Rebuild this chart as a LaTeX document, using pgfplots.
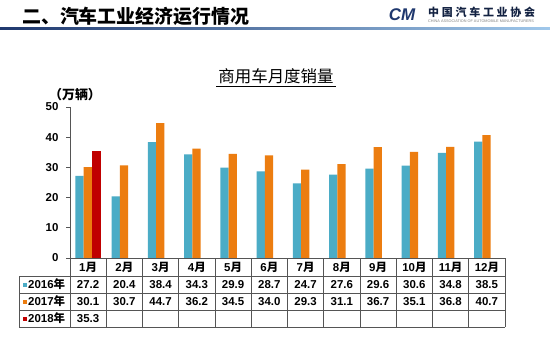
\documentclass[border=0pt]{standalone}
\usepackage{fontspec}
\setmainfont{Liberation Sans}
\newfontfamily\cjk{Noto Sans CJK SC}
\usepackage{pgfplots}
\pgfplotsset{compat=1.18}
\definecolor{cblue}{RGB}{75,172,198}
\definecolor{corange}{RGB}{236,125,16}
\definecolor{cred}{RGB}{192,0,0}
\definecolor{navy}{RGB}{31,56,110}
\definecolor{lblue}{RGB}{160,200,235}
\definecolor{tline}{RGB}{85,85,85}
\begin{document}
\begin{tikzpicture}[x=1bp,y=1bp,
  tbl/.style={font=\bfseries\fontsize{11.5}{12}\selectfont, inner sep=0}]
\useasboundingbox (0,0) rectangle (550,355);
\fill[white] (0,0) rectangle (550,355);
% header
\node[anchor=west,inner sep=0,font=\cjk\bfseries\fontsize{19}{19}\selectfont] at (22,338.5) {二、汽车工业经济运行情况};
\shade[left color=navy, right color=lblue] (0,325.5) rectangle (550,327.8);
% logo
\node[font=\bfseries\itshape\fontsize{17}{17}\selectfont, text=navy, inner sep=0] at (402,340) {CM};
\node[anchor=west, inner sep=0, font=\cjk\bfseries\fontsize{11}{11}\selectfont\addfontfeature{LetterSpace=25}, text=navy!60!black] at (428,342.5) {中国汽车工业协会};
\node[anchor=west, inner sep=0, font=\fontsize{3.8}{4}\selectfont, text=gray] at (428,334) {CHINA ASSOCIATION OF AUTOMOBILE MANUFACTURERS};
% title
\node[font=\cjk\fontsize{16.5}{17}\selectfont, inner sep=0] at (276,279) {商用车月度销量};
\draw[line width=0.8bp] (216,269) -- (336,269);
\node[font=\cjk\bfseries\fontsize{13}{13}\selectfont, inner sep=0] at (75,260.5) {（万辆）};

\begin{axis}[at={(70bp,97bp)}, anchor=south west, scale only axis,
  width=435bp, height=151bp,
  xmin=0.5, xmax=12.5, ymin=0, ymax=50,
  axis x line=none, axis y line*=left,
  ytick={0,10,...,50}, tick align=outside, major tick length=4bp,
  axis line style={tline, line width=0.8bp},
  ytick style={tline, line width=0.8bp},
  /pgf/number format/assume math mode=true,
  yticklabel style={font=\bfseries\fontsize{11.5}{12}\selectfont, xshift=-4bp},
  ybar, bar width=8.3bp, clip=false]
\addplot[fill=cblue, draw=none, bar shift=-8.6bp] coordinates {
 (1,27.2) (2,20.4) (3,38.4) (4,34.3) (5,29.9) (6,28.7) (7,24.7) (8,27.6) (9,29.6) (10,30.6) (11,34.8) (12,38.5)};
\addplot[fill=corange, draw=none, bar shift=-0.3bp] coordinates {
 (1,30.1) (2,30.7) (3,44.7) (4,36.2) (5,34.5) (6,34.0) (7,29.3) (8,31.1) (9,36.7) (10,35.1) (11,36.8) (12,40.7)};
\addplot[fill=cred, draw=none, bar shift=8.3bp] coordinates {(1,35.3)};
\end{axis}

% table
\begin{scope}[tline, line width=0.8bp]
\draw (70,97) -- (505,97);
\foreach \y in {79,62,45,28} \draw (19,\y) -- (505,\y);
\draw (19,79) -- (19,28);
\foreach \k in {0,...,12} \draw ({70+36.25*\k},97) -- ({70+36.25*\k},28);
\end{scope}
\foreach \k in {1,...,12} \node[tbl] at ({70+36.25*(\k-0.5)},88) {\k{\cjk 月}};
\foreach \v [count=\k] in {27.2,20.4,38.4,34.3,29.9,28.7,24.7,27.6,29.6,30.6,34.8,38.5}
  \node[tbl] at ({70+36.25*(\k-0.5)},70.5) {\v};
\foreach \v [count=\k] in {30.1,30.7,44.7,36.2,34.5,34.0,29.3,31.1,36.7,35.1,36.8,40.7}
  \node[tbl] at ({70+36.25*(\k-0.5)},53.5) {\v};
\node[tbl] at ({70+36.25*0.5},36.5) {35.3};
\fill[cblue] (22.5,68.5) rectangle (26.5,72.5);
\fill[corange] (22.5,51.5) rectangle (26.5,55.5);
\fill[cred] (22.5,34.5) rectangle (26.5,38.5);
\node[tbl, anchor=west] at (28,70.5) {2016{\cjk 年}};
\node[tbl, anchor=west] at (28,53.5) {2017{\cjk 年}};
\node[tbl, anchor=west] at (28,36.5) {2018{\cjk 年}};
\end{tikzpicture}
\end{document}
